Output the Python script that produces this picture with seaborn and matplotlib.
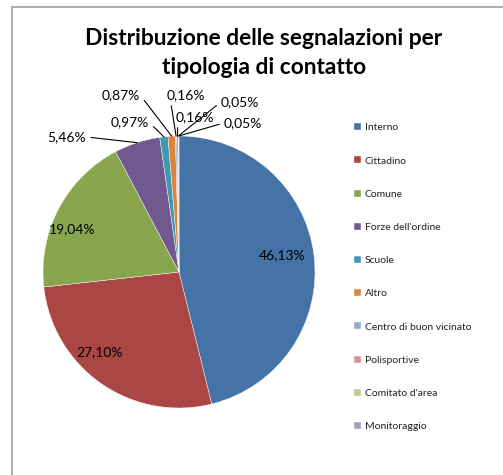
import matplotlib
matplotlib.use("Agg")
import matplotlib.pyplot as plt
from matplotlib.patches import Rectangle
import seaborn as sns
import pandas as pd
import numpy as np

# --- data -------------------------------------------------------------
categorie = ["Interno", "Cittadino", "Comune", "Forze dell'ordine", "Scuole",
             "Altro", "Centro di buon vicinato", "Polisportive",
             "Comitato d'area", "Monitoraggio"]
percentuali = [46.13, 27.10, 19.04, 5.46, 0.97, 0.87, 0.16, 0.16, 0.05, 0.05]
colori = ["#4572A7", "#AA4643", "#89A54E", "#71588F", "#4198AF",
          "#DB843D", "#93A9CF", "#D19392", "#B9CD96", "#A99BBD"]
titolo = "Distribuzione delle segnalazioni per\ntipologia di contatto"

df = pd.DataFrame({"categoria": categorie, "percentuale": percentuali})

# --- label layout (data units, pie radius = 1) --------------------------
# text centre for each label; leader = True draws a line to the slice
pos_etichette = [(0.757, 0.125), (-0.581, -0.588), (-0.787, 0.316),
                 (-0.824, 0.993), (-0.36, 1.10), (-0.426, 1.301),
                 (0.051, 1.301), (0.118, 1.14), (0.449, 1.25), (0.471, 1.096)]
leader = [False, False, False, True, True, True, True, True, True, True]
# point of the text box where the leader line starts
relpos = [None, None, None, (1, 0.5), (1, 0.5), (1, 0.5),
          (0.1, 0.0), (0.05, 0.0), (0, 0.5), (0, 0.5)]

sns.set_style("white")
plt.rcParams["font.family"] = ["Lato", "DejaVu Sans"]

W, H = 503, 475
fig = plt.figure(figsize=(W / 100, H / 100), dpi=100)

# chart area border
fig.patches.append(Rectangle((12 / W, -0.05), 1.2, 1.05 - 7 / H,
                             transform=fig.transFigure, fill=False,
                             edgecolor="#A6A6A6", linewidth=1.3))

cx, cy, r = 179, 272, 136
ax = fig.add_axes([(cx - r) / W, (H - cy - r) / H, 2 * r / W, 2 * r / H])

wedges, _ = ax.pie(df["percentuale"], colors=colori, startangle=90,
                   counterclock=False, radius=1,
                   wedgeprops=dict(edgecolor="white", linewidth=0.3))
ax.set_xlim(-1, 1)
ax.set_ylim(-1, 1)
ax.set_aspect("equal")
ax.axis("off")

for i, (w, v) in enumerate(zip(wedges, df["percentuale"])):
    testo = f"{v:.2f}%".replace(".", ",")
    tx, ty = pos_etichette[i]
    if leader[i]:
        ang = np.deg2rad((w.theta1 + w.theta2) / 2)
        ax.annotate(testo, xy=(np.cos(ang), np.sin(ang)), xytext=(tx, ty),
                    ha="center", va="center", fontsize=10, color="black",
                    annotation_clip=False,
                    arrowprops=dict(arrowstyle="-", color="black", lw=0.8,
                                    shrinkA=1, shrinkB=0, relpos=relpos[i]))
    else:
        ax.text(tx, ty, testo, ha="center", va="center", fontsize=10,
                color="black")

fig.text(264 / W, 1 - 53 / H, titolo, ha="center", va="center",
         fontsize=16.4, fontweight="bold", linespacing=1.45, color="black")

fig.legend(wedges, categorie, loc="upper left",
           bbox_to_anchor=(349 / W, 1 - 118 / H), frameon=False,
           fontsize=7.5, handlelength=0.65, handleheight=0.65,
           handletextpad=0.35, labelspacing=2.31, borderpad=0,
           labelcolor="#222222")

fig.savefig("out.png", dpi=100)
